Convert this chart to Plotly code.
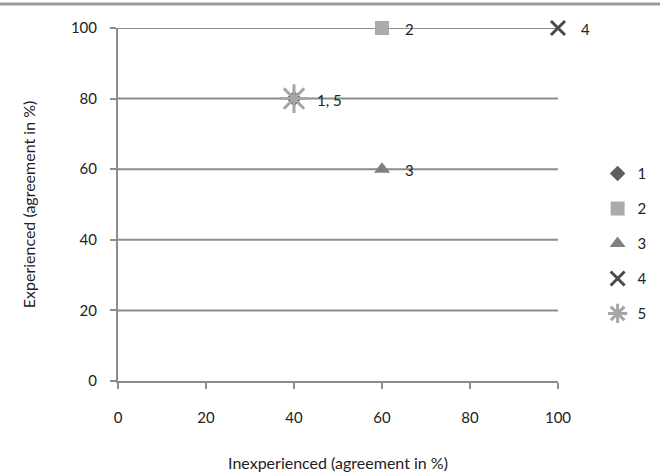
import plotly.graph_objects as go

series_names = ["1", "2", "3", "4", "5"]
inexperienced = [40, 60, 60, 100, 40]
experienced = [80, 100, 60, 100, 80]
symbols = ["diamond", "square", "triangle-up", "x-thin-open", "asterisk-open"]
colors = ["#5f5f5f", "#ababab", "#808080", "#4a4a4a", "#a6a6a6"]
sizes = [12, 14, 14, 14, 24]

label_texts = ["1, 5", "2", "3", "4"]
label_x = [40, 60, 60, 100]
label_y = [80, 100, 60, 100]

tick_vals = [0, 20, 40, 60, 80, 100]

FONT = "Lato, Carlito, 'Open Sans', sans-serif"
GRID = "#8c8c8c"

fig = go.Figure()
# gridlines (drawn as shapes so the one at the top edge also shows)
for tv in tick_vals[1:]:
    fig.add_shape(type="line", xref="x", yref="y", x0=0, x1=100, y0=tv, y1=tv,
                  line=dict(color=GRID, width=2), layer="below")

for i, name in enumerate(series_names):
    open_sym = symbols[i].endswith("open")
    marker = dict(symbol=symbols[i], size=sizes[i], color=colors[i])
    if open_sym:
        marker["line"] = dict(color=colors[i], width=3)
    else:
        marker["line"] = dict(width=0)
    fig.add_trace(go.Scatter(
        x=[inexperienced[i]], y=[experienced[i]], mode="markers", name=name,
        marker=marker, legendgroup=name, cliponaxis=False,
    ))

for t, lx, ly in zip(label_texts, label_x, label_y):
    fig.add_annotation(x=lx, y=ly, text=t, showarrow=False, xanchor="left",
                       xshift=21, yshift=-1, font=dict(size=15, color="#222222", family=FONT))

fig.add_shape(type="line", xref="paper", yref="paper", x0=-0.3, x1=1.3,
              y0=1.068, y1=1.068, line=dict(color="#9a9a9a", width=3))

axis_common = dict(
    tickvals=tick_vals, showline=True, linecolor=GRID, linewidth=2,
    ticks="outside", ticklen=6, tickwidth=2, tickcolor=GRID,
    tickfont=dict(size=15, color="#222222", family=FONT), zeroline=False,
    showgrid=False, range=[0, 100],
)

fig.update_layout(
    width=660, height=475,
    margin=dict(l=118, r=102, t=28, b=94, autoexpand=False),
    paper_bgcolor="white", plot_bgcolor="white",
    font=dict(family=FONT, color="#222222"),
    xaxis=dict(ticklabelstandoff=16,
               title=dict(text="Inexperienced (agreement in %)", font=dict(size=16), standoff=33),
               **axis_common),
    yaxis=dict(ticklabelstandoff=10,
               title=dict(text="Experienced (agreement in %)", font=dict(size=16), standoff=31),
               **axis_common),
    legend=dict(x=1.09, y=0.634, xanchor="left", yanchor="top", tracegroupgap=12.5,
                font=dict(size=15, color="#222222"), itemwidth=30, bgcolor="rgba(0,0,0,0)"),
    showlegend=True,
)

fig.write_html("out.html")
